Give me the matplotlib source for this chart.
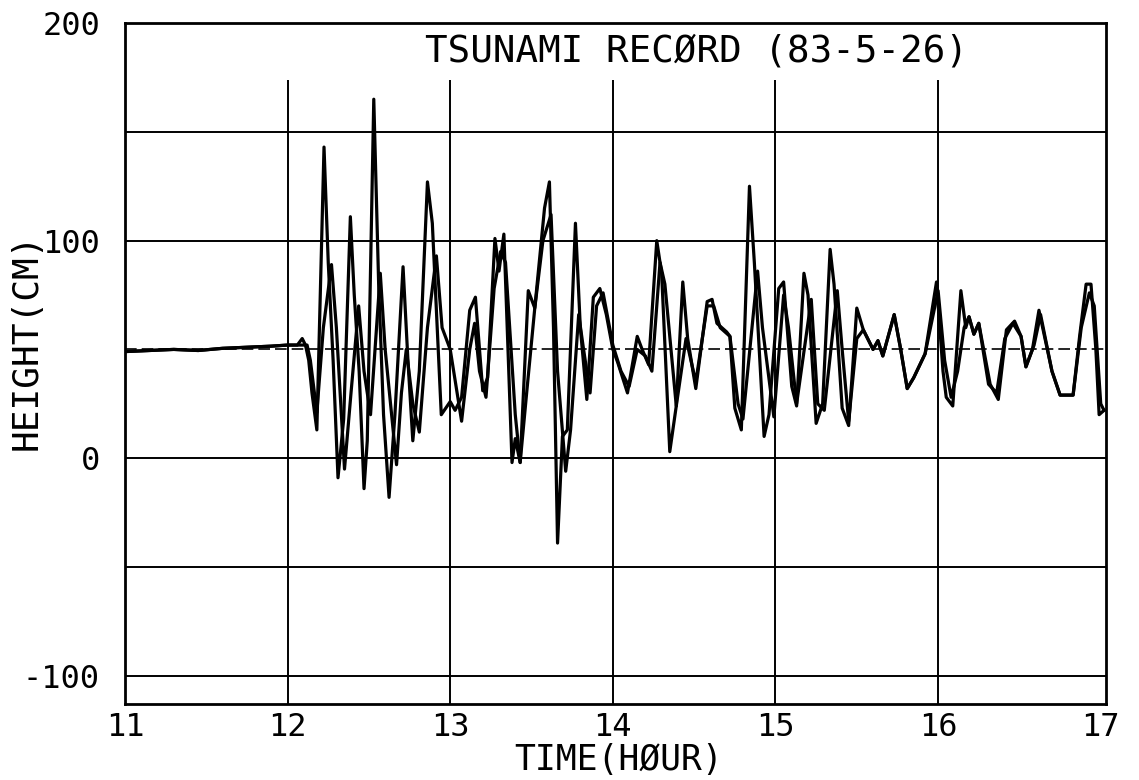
import numpy as np
import matplotlib
matplotlib.use("Agg")
import matplotlib.pyplot as plt

# observed record (sharper peaks)
t_obs = [11.00, 11.15, 11.30, 11.45, 11.60, 11.75, 11.90, 12.00, 12.06, 12.09, 12.11,
         12.13, 12.15, 12.18, 12.224, 12.25, 12.28, 12.31, 12.345, 12.386, 12.41, 12.44,
         12.47, 12.49, 12.53, 12.56, 12.59, 12.624, 12.66, 12.71, 12.74, 12.77, 12.81,
         12.86, 12.89, 12.92, 12.945, 13.00, 13.03, 13.07, 13.12, 13.155, 13.20, 13.23,
         13.275, 13.30, 13.33, 13.38, 13.40, 13.43, 13.48, 13.52, 13.58, 13.61, 13.635,
         13.66, 13.69, 13.72, 13.77, 13.80, 13.84, 13.88, 13.92, 13.96, 14.00, 14.03,
         14.09, 14.15, 14.18, 14.22, 14.27, 14.30, 14.35, 14.39, 14.43, 14.46, 14.51,
         14.58, 14.61, 14.64, 14.70, 14.72, 14.75, 14.79, 14.84, 14.87, 14.93, 14.96,
         15.02, 15.05, 15.10, 15.13, 15.175, 15.20, 15.25, 15.29, 15.336, 15.36, 15.41,
         15.45, 15.50, 15.54, 15.60, 15.63, 15.66, 15.73, 15.77, 15.81, 15.85, 15.92,
         15.99, 16.03, 16.05, 16.09, 16.14, 16.17, 16.19, 16.22, 16.25, 16.32, 16.37,
         16.42, 16.47, 16.51, 16.54, 16.58, 16.62, 16.70, 16.75, 16.83, 16.87, 16.91,
         16.94, 16.97, 16.99, 17.02]
h_obs = [49, 49.5, 50, 49.5, 50.5, 51, 51.5, 52, 52, 55, 52,
         45, 30, 13, 143, 90, 45, -9, 18, 111, 75, 40,
         -14, 8, 165, 80, 20, -18, 20, 88, 45, 8, 40,
         127, 108, 60, 20, 26, 22, 28, 68, 74, 31, 37,
         101, 86, 103, -2, 9, -2, 77, 69, 115, 127, 60,
         -39, 10, 13, 108, 60, 27, 74, 78, 66, 50, 44,
         30, 56, 50, 43, 100, 85, 3, 24, 81, 55, 32,
         72, 73, 62, 58, 56, 23, 13, 125, 90, 10, 20,
         78, 81, 33, 24, 85, 75, 16, 25, 96, 80, 23,
         15, 69, 59, 50, 54, 47, 66, 50, 32, 37, 48,
         81, 40, 28, 24, 77, 60, 65, 57, 62, 34, 27,
         59, 63, 56, 42, 50, 68, 40, 29, 29, 56, 80,
         80, 50, 20, 22]

# computed record (smoother, lagging)
t_cal = [11.00, 11.15, 11.30, 11.45, 11.60, 11.75, 11.90, 12.00, 12.08, 12.12,
         12.14, 12.18, 12.22, 12.27, 12.30, 12.35, 12.39, 12.437, 12.47, 12.51,
         12.57, 12.60, 12.67, 12.70, 12.73, 12.77, 12.81, 12.86, 12.915, 12.95,
         13.00, 13.07, 13.12, 13.15, 13.18, 13.22, 13.27, 13.31, 13.34, 13.40,
         13.43, 13.47, 13.52, 13.57, 13.62, 13.66, 13.71, 13.74, 13.79, 13.82,
         13.86, 13.90, 13.94, 14.00, 14.05, 14.10, 14.15, 14.20, 14.24, 14.29,
         14.32, 14.39, 14.45, 14.51, 14.58, 14.62, 14.66, 14.72, 14.77, 14.80,
         14.89, 14.92, 14.99, 15.05, 15.08, 15.13, 15.22, 15.26, 15.30, 15.38,
         15.41, 15.45, 15.50, 15.54, 15.60, 15.63, 15.66, 15.73, 15.77, 15.81,
         15.85, 15.92, 16.00, 16.04, 16.08, 16.12, 16.16, 16.19, 16.22, 16.25,
         16.31, 16.36, 16.41, 16.46, 16.51, 16.54, 16.59, 16.63, 16.70, 16.75,
         16.83, 16.88, 16.93, 16.96, 17.00, 17.02]
h_cal = [49, 49.5, 50, 49.5, 50.5, 51, 51.5, 52, 52, 52,
         45, 21, 60, 89, 60, -5, 30, 70, 40, 20,
         85, 50, -3, 30, 50, 25, 12, 60, 93, 60,
         50, 17, 50, 62, 40, 28, 78, 95, 90, 20,
         -2, 30, 69, 100, 112, 40, -6, 13, 66, 50,
         30, 70, 76, 52, 40, 33, 50, 47, 40, 90,
         80, 24, 55, 35, 70, 70, 60, 56, 25, 18,
         86, 60, 19, 75, 60, 25, 73, 25, 22, 77,
         50, 17, 55, 59, 50, 54, 47, 66, 50, 32,
         37, 48, 77, 45, 28, 40, 60, 65, 57, 62,
         34, 30, 55, 62, 56, 42, 52, 66, 40, 29,
         29, 60, 76, 70, 25, 22]

grid_solid = [150, 100, 0, -50, -100]
grid_dash = [50]
hour_lines = [12, 13, 14, 15, 16]
x_ticks = [11, 12, 13, 14, 15, 16, 17]
y_ticks = [-100, 0, 100, 200]

font = ["DejaVu Sans Mono"]

fig = plt.figure(figsize=(11.39, 7.8), dpi=100)
ax = fig.add_axes([0.1097, 0.0974, 0.861, 0.873])

x0, x1 = 11, 17.03
y0, y1 = -113, 200

ax.hlines(grid_solid, x0, x1, color="black", lw=1.4)
ax.hlines(grid_dash, x0, x1, color="black", lw=1.2, linestyles=(0, (7, 3)))
ax.vlines(hour_lines, y0, 174, color="black", lw=1.4)

ax.plot(t_obs, h_obs, color="black", lw=2.3, solid_joinstyle="round")
ax.plot(t_cal, h_cal, color="black", lw=2.3, solid_joinstyle="round")

ax.set_xlim(x0, x1)
ax.set_ylim(y0, y1)
ax.set_xticks(x_ticks)
ax.set_yticks(y_ticks)
ax.set_xticklabels([str(v) for v in x_ticks], family=font, fontsize=23)
ax.set_yticklabels([str(v) for v in y_ticks], family=font, fontsize=23)
ax.tick_params(length=0)
ax.tick_params(axis="x", pad=6)
ax.tick_params(axis="y", pad=18)
for s in ax.spines.values():
    s.set_linewidth(2.0)

ax.text(0.583, 0.958, "TSUNAMI RECØRD (83-5-26)", transform=ax.transAxes,
        ha="center", va="center", family=font, fontsize=27)
fig.text(619 / 1139, 1 - 760 / 780, "TIME(HØUR)", ha="center", va="center",
         family=font, fontsize=25)
fig.text(27 / 1139, 1 - 341 / 780, "HEIGHT(CM)", ha="center", va="center",
         rotation=90, family=font, fontsize=26)

fig.savefig("out.png", dpi=100)
